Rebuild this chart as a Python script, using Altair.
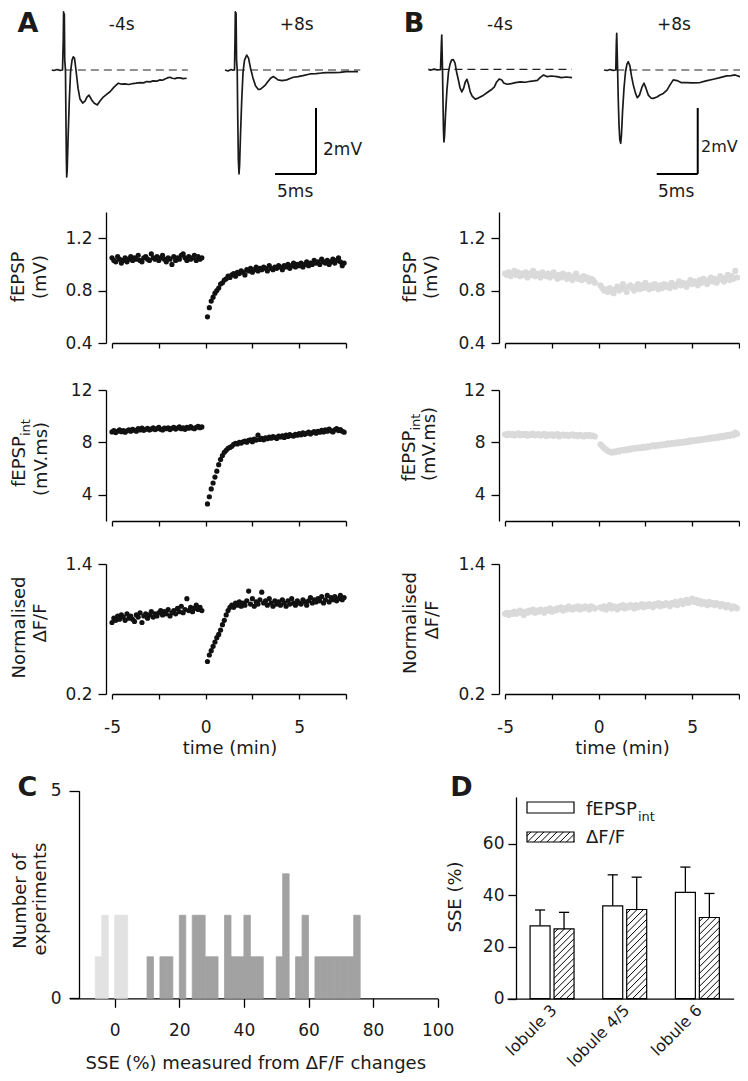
import altair as alt
import pandas as pd

# ---------------------------------------------------------------- data
# sampling times of the time-course plots (min)
T_PRE = [-5.0, -4.9, -4.8, -4.7, -4.6, -4.5, -4.4, -4.3, -4.2, -4.1,
         -4.0, -3.9, -3.8, -3.7, -3.6, -3.5, -3.4, -3.3, -3.2, -3.1,
         -3.0, -2.9, -2.8, -2.7, -2.6, -2.5, -2.4, -2.3, -2.2, -2.1,
         -2.0, -1.9, -1.8, -1.7, -1.6, -1.5, -1.4, -1.3, -1.2, -1.1,
         -1.0, -0.9, -0.8, -0.7, -0.6, -0.5, -0.4, -0.3, -0.2]
T_POST = [0.1, 0.2, 0.3, 0.4, 0.5, 0.6, 0.7, 0.8, 0.9, 1.0,
          1.1, 1.2, 1.3, 1.4, 1.5, 1.6, 1.7, 1.8, 1.9, 2.0,
          2.1, 2.2, 2.3, 2.4, 2.5, 2.6, 2.7, 2.8, 2.9, 3.0,
          3.1, 3.2, 3.3, 3.4, 3.5, 3.6, 3.7, 3.8, 3.9, 4.0,
          4.1, 4.2, 4.3, 4.4, 4.5, 4.6, 4.7, 4.8, 4.9, 5.0,
          5.1, 5.2, 5.3, 5.4, 5.5, 5.6, 5.7, 5.8, 5.9, 6.0,
          6.1, 6.2, 6.3, 6.4, 6.5, 6.6, 6.7, 6.8, 6.9, 7.0,
          7.1, 7.2, 7.3, 7.4]

# panel A
A_FEPSP_PRE = [1.05, 1.03, 1.02, 1.06, 1.04, 1.01, 1.03, 1.05, 1.02, 1.04,
               1.06, 1.03, 1.05, 1.04, 1.07, 1.03, 1.02, 1.05, 1.06, 1.04,
               1.03, 1.08, 1.05, 1.04, 1.06, 1.03, 1.05, 1.07, 1.04, 1.02,
               1.05, 1.04, 1.00, 1.06, 1.03, 1.05, 1.04, 1.07, 1.08, 1.05,
               1.03, 1.06, 1.04, 1.05, 1.07, 1.03, 1.06, 1.04, 1.05]
A_FEPSP_POST = [0.60, 0.67, 0.72, 0.75, 0.78, 0.80, 0.82, 0.85, 0.86, 0.88,
                0.89, 0.91, 0.90, 0.92, 0.93, 0.91, 0.94, 0.93, 0.95, 0.94,
                0.92, 0.96, 0.95, 0.97, 0.94, 0.96, 0.98, 0.95, 0.97, 0.96,
                0.98, 0.97, 0.95, 0.99, 0.97, 0.96, 0.98, 0.97, 0.99, 0.98,
                0.96, 0.99, 0.98, 1.00, 0.97, 0.99, 1.01, 0.98, 1.00, 0.99,
                1.01, 0.98, 1.00, 1.02, 0.99, 1.01, 1.00, 1.03, 1.01, 1.02,
                1.00, 1.04, 1.02, 1.01, 1.03, 1.00, 1.02, 1.04, 1.01, 1.03,
                1.05, 1.02, 0.99, 1.01]
A_INT_PRE = [8.80, 8.90, 8.75, 8.85, 8.95, 8.82, 8.90, 8.78, 8.88, 8.95,
             8.85, 9.00, 8.92, 8.85, 9.05, 8.95, 9.10, 8.92, 9.00, 9.08,
             8.95, 9.02, 9.12, 8.98, 9.05, 9.15, 9.00, 8.95, 9.10, 9.05,
             9.12, 8.98, 9.08, 9.15, 9.02, 9.10, 9.18, 9.05, 9.12, 9.00,
             9.15, 9.08, 9.20, 9.10, 9.05, 9.15, 9.22, 9.12, 9.18]
A_INT_POST = [3.30, 3.85, 4.45, 4.90, 5.35, 5.80, 6.30, 6.70, 7.00, 7.25,
              7.40, 7.55, 7.62, 7.70, 7.85, 7.92, 7.88, 8.00, 7.95, 8.05,
              8.10, 8.02, 8.15, 8.20, 8.05, 8.25, 8.18, 8.55, 8.22, 8.30,
              8.20, 8.35, 8.28, 8.40, 8.32, 8.45, 8.38, 8.30, 8.48, 8.42,
              8.50, 8.38, 8.55, 8.45, 8.60, 8.52, 8.48, 8.62, 8.55, 8.68,
              8.58, 8.72, 8.62, 8.70, 8.78, 8.65, 8.75, 8.82, 8.70, 8.85,
              8.78, 8.92, 8.80, 8.95, 8.85, 9.02, 8.88, 8.80, 8.95, 9.05,
              8.90, 8.98, 8.85, 8.78]
A_DFF_PRE = [0.86, 0.90, 0.88, 0.92, 0.89, 0.93, 0.91, 0.88, 0.94, 0.90,
             0.92, 0.89, 0.87, 0.93, 0.91, 0.95, 0.86, 0.92, 0.94, 0.90,
             0.93, 0.96, 0.91, 0.94, 0.92, 0.95, 0.97, 0.93, 0.96, 0.94,
             0.98, 0.92, 0.95, 0.97, 0.94, 0.99, 0.96, 1.01, 0.95, 0.98,
             1.08, 0.97, 1.00, 0.96, 0.99, 1.02, 0.98, 1.00, 0.97]
A_DFF_POST = [0.50, 0.56, 0.60, 0.64, 0.68, 0.72, 0.75, 0.79, 0.84, 0.88,
              0.93, 0.97, 1.00, 1.02, 1.00, 1.04, 1.02, 1.05, 1.01, 1.04,
              1.02, 1.06, 1.15, 1.03, 1.08, 1.01, 1.05, 1.03, 1.07, 1.14,
              1.04, 1.06, 1.02, 1.08, 1.04, 1.01, 1.06, 1.03, 1.05, 1.02,
              1.07, 1.04, 1.01, 1.06, 1.03, 1.08, 1.04, 1.02, 1.06, 1.04,
              1.03, 1.07, 1.05, 1.02, 1.06, 1.09, 1.04, 1.07, 1.05, 1.08,
              1.06, 1.10, 1.04, 1.07, 1.11, 1.05, 1.09, 1.07, 1.10, 1.06,
              1.08, 1.11, 1.07, 1.09]

# panel B
B_FEPSP_PRE = [0.93, 0.92, 0.94, 0.91, 0.93, 0.95, 0.92, 0.94, 0.91, 0.93,
               0.92, 0.94, 0.90, 0.93, 0.92, 0.95, 0.91, 0.93, 0.92, 0.90,
               0.94, 0.92, 0.91, 0.93, 0.90, 0.92, 0.94, 0.91, 0.89, 0.92,
               0.90, 0.93, 0.91, 0.89, 0.92, 0.90, 0.88, 0.91, 0.93, 0.89,
               0.90, 0.88, 0.91, 0.89, 0.90, 0.87, 0.89, 0.88, 0.86]
B_FEPSP_POST = [0.84, 0.82, 0.80, 0.81, 0.79, 0.82, 0.80, 0.78, 0.81, 0.83,
                0.80, 0.82, 0.85, 0.81, 0.79, 0.83, 0.84, 0.82, 0.80, 0.83,
                0.85, 0.81, 0.84, 0.82, 0.86, 0.83, 0.81, 0.84, 0.82, 0.85,
                0.83, 0.81, 0.84, 0.82, 0.85, 0.83, 0.84, 0.82, 0.86, 0.84,
                0.83, 0.85, 0.87, 0.84, 0.86, 0.85, 0.83, 0.86, 0.88, 0.85,
                0.87, 0.86, 0.84, 0.88, 0.86, 0.89, 0.87, 0.85, 0.88, 0.90,
                0.87, 0.89, 0.86, 0.88, 0.91, 0.89, 0.87, 0.90, 0.92, 0.88,
                0.91, 0.89, 0.95, 0.90]
B_INT_PRE = [8.62, 8.55, 8.68, 8.58, 8.65, 8.52, 8.60, 8.70, 8.55, 8.63,
             8.58, 8.66, 8.50, 8.62, 8.57, 8.68, 8.54, 8.60, 8.64, 8.52,
             8.58, 8.65, 8.48, 8.60, 8.55, 8.62, 8.50, 8.57, 8.63, 8.45,
             8.55, 8.60, 8.52, 8.58, 8.48, 8.56, 8.62, 8.50, 8.55, 8.47,
             8.58, 8.52, 8.45, 8.55, 8.50, 8.58, 8.48, 8.52, 8.45]
B_INT_POST = [7.85, 7.70, 7.55, 7.45, 7.35, 7.28, 7.22, 7.30, 7.25, 7.35,
              7.30, 7.42, 7.38, 7.45, 7.40, 7.50, 7.46, 7.55, 7.52, 7.58,
              7.55, 7.62, 7.58, 7.66, 7.60, 7.70, 7.65, 7.72, 7.78, 7.70,
              7.80, 7.75, 7.84, 7.78, 7.88, 7.82, 7.92, 7.86, 7.95, 7.90,
              7.98, 7.94, 8.02, 7.96, 8.05, 8.00, 8.10, 8.04, 8.15, 8.08,
              8.18, 8.12, 8.22, 8.16, 8.25, 8.20, 8.30, 8.24, 8.35, 8.28,
              8.38, 8.32, 8.42, 8.36, 8.48, 8.40, 8.52, 8.45, 8.58, 8.50,
              8.62, 8.55, 8.75, 8.65]
B_DFF_PRE = [0.94, 0.95, 0.93, 0.95, 0.94, 0.96, 0.94, 0.95, 0.97, 0.95,
             0.93, 0.96, 0.95, 0.97, 0.96, 0.98, 0.95, 0.97, 0.96, 0.98,
             0.97, 0.95, 0.98, 0.97, 0.99, 0.96, 0.98, 0.97, 0.99, 0.98,
             1.00, 0.97, 0.99, 0.98, 1.01, 0.99, 0.98, 1.00, 0.99, 1.01,
             0.98, 1.00, 0.99, 1.01, 1.00, 0.98, 1.01, 1.00, 0.99]
B_DFF_POST = [1.00, 0.99, 1.01, 0.98, 1.00, 1.02, 0.99, 1.01, 1.00, 0.98,
              1.01, 1.00, 1.02, 0.99, 1.01, 1.00, 1.02, 1.01, 0.99, 1.02,
              1.00, 1.01, 1.03, 1.00, 1.02, 1.01, 1.03, 1.02, 1.00, 1.03,
              1.02, 1.04, 1.01, 1.03, 1.02, 1.04, 1.03, 1.01, 1.04, 1.03,
              1.05, 1.02, 1.04, 1.06, 1.03, 1.05, 1.07, 1.04, 1.06, 1.08,
              1.05, 1.07, 1.04, 1.06, 1.03, 1.05, 1.04, 1.02, 1.05, 1.03,
              1.04, 1.02, 1.04, 1.03, 1.01, 1.03, 1.02, 1.00, 1.02, 1.01,
              0.99, 1.01, 1.00, 0.99]

# example field potentials (time in ms, voltage in mV)
TR_A1_T = [0, 0.28, 0.65, 1.01, 1.32, 1.41, 1.45, 1.50, 1.54, 1.59, 1.68, 1.74, 1.79, 1.83,
           1.89, 1.99, 2.15, 2.30, 2.48, 2.63, 2.78, 2.96, 3.21, 3.45, 3.78, 4.06, 4.30, 4.55,
           4.88, 5.16, 5.56, 5.89, 6.29, 6.74, 7.11, 7.60, 8.13, 8.50, 8.94, 9.40, 9.91, 10.30,
           10.77, 11.20, 11.59, 12.00, 12.36, 12.80, 13.21, 13.50, 13.82, 14.10, 14.43, 14.70,
           15.04, 15.30, 15.65, 16.00, 16.46]
TR_A1_V = [0, -0.015, 0.015, -0.01, 0, 0.91, 1.76, 0.76, 1.70, 0.30, 0, -1.52, -2.73, -3.24,
           -3.03, -2.12, -0.91, -0.06, 0.30, 0.40, 0.36, 0, -0.55, -0.88, -1.00, -0.94, -0.82, -0.76,
           -0.91, -1.00, -1.06, -0.94, -0.82, -0.73, -0.66, -0.52, -0.40, -0.43, -0.42, -0.44, -0.41, -0.40,
           -0.38, -0.39, -0.35, -0.36, -0.33, -0.34, -0.30, -0.31, -0.27, -0.24, -0.22, -0.25,
           -0.26, -0.24, -0.24, -0.26, -0.25]
TR_A2_T = [0, 0.37, 0.73, 0.98, 1.16, 1.22, 1.26, 1.30, 1.35, 1.41, 1.49, 1.56, 1.63, 1.71,
           1.78, 1.89, 2.04, 2.20, 2.38, 2.65, 2.87, 3.11, 3.41, 3.72, 4.06, 4.33, 4.63, 4.94,
           5.24, 5.61, 5.89, 6.16, 6.46, 6.95, 7.52, 7.93, 8.33, 8.90, 9.51, 10.37, 11.10, 11.83,
           12.44, 13.17, 14.02, 14.76, 15.49, 16.22]
TR_A2_V = [0, -0.03, 0.015, -0.006, 0, 0.91, 1.76, 0.76, 1.73, 0.30, 0, -1.52, -2.73, -3.15,
           -2.88, -1.97, -0.91, -0.06, 0.30, 0.45, 0.36, 0.06, -0.24, -0.48, -0.59, -0.58, -0.52, -0.45,
           -0.35, -0.24, -0.20, -0.24, -0.30, -0.32, -0.30, -0.26, -0.22, -0.20, -0.17, -0.12, -0.11, -0.09,
           -0.08, -0.08, -0.07, -0.05, -0.05, -0.05]
TR_B1_T = [0, 0.33, 0.70, 1.06, 1.49, 1.59, 1.64, 1.68, 1.73, 1.79, 1.85, 1.91, 1.98, 2.09,
           2.27, 2.46, 2.65, 2.83, 3.05, 3.26, 3.45, 3.67, 3.88, 4.09, 4.31, 4.50, 4.71, 4.90,
           5.11, 5.35, 5.72, 6.09, 6.74, 7.19, 7.76, 8.04, 8.34, 8.65, 8.96, 9.20, 9.59, 10.12,
           10.61, 11.22, 11.83, 12.44, 12.85, 13.30, 13.66, 14.06, 14.51, 15.00, 15.70, 16.22,
           16.83, 17.53]
TR_B1_V = [0, -0.02, 0.01, -0.015, -0.006, 0.74, 1.04, 0.58, 0.01, -0.93, -1.84, -2.20, -2.01, -1.40,
           -0.63, -0.08, 0.16, 0.28, 0.30, 0.19, -0.08, -0.32, -0.57, -0.68, -0.57, -0.39, -0.30, -0.45,
           -0.68, -0.81, -0.90, -0.87, -0.78, -0.70, -0.60, -0.54, -0.38, -0.29, -0.32, -0.41, -0.45, -0.43,
           -0.40, -0.38, -0.39, -0.36, -0.35, -0.33, -0.24, -0.17, -0.22, -0.20, -0.22, -0.25,
           -0.23, -0.25]
TR_B2_T = [0, 0.37, 0.73, 1.10, 1.44, 1.50, 1.55, 1.60, 1.66, 1.74, 1.83, 1.93, 2.04, 2.13,
           2.26, 2.44, 2.62, 2.80, 2.96, 3.17, 3.35, 3.57, 3.84, 4.06, 4.33, 4.63, 4.88, 5.12,
           5.40, 5.73, 6.01, 6.46, 6.83, 7.23, 7.68, 8.05, 8.45, 8.90, 9.39, 10.09, 10.73, 11.71,
           12.44, 13.33, 14.02, 14.96, 15.49, 15.98, 16.59, 17.40]
TR_B2_V = [0, -0.015, 0.015, -0.01, 0, 0.76, 1.11, 0.61, 0, -0.91, -1.67, -2.12, -2.22, -1.97,
           -1.27, -0.55, -0.06, 0.18, 0.25, 0.12, -0.18, -0.45, -0.70, -0.84, -0.76, -0.52, -0.40, -0.55,
           -0.76, -0.85, -0.86, -0.82, -0.76, -0.71, -0.61, -0.45, -0.30, -0.32, -0.38, -0.38, -0.39, -0.38,
           -0.33, -0.28, -0.24, -0.18, -0.17, -0.15, -0.20, -0.22]
BASE_A1 = [1.6, 16.6]
BASE_A2 = [1.46, 16.5]
BASE_B1 = [1.6, 17.5]
BASE_B2 = [1.5, 17.4]
SCALEBAR_MS = 5
SCALEBAR_MV = 2

# panel C histogram (2 % bins: left edge, count)
LIGHT_BINS = [-6, -4, 0, 2]
LIGHT_COUNTS = [1, 2, 2, 2]
DARK_BINS = [10, 14, 16, 20, 24, 26, 28, 30, 34, 36, 38, 40, 42, 44, 50, 52, 56, 58,
             62, 64, 66, 68, 70, 72, 74]
DARK_COUNTS = [1, 1, 1, 2, 2, 2, 1, 1, 2, 1, 1, 2, 1, 1, 1, 3, 1, 2,
               1, 1, 1, 1, 1, 1, 2]
BIN_W = 2

# panel D
LOBULES = ["lobule 3", "lobule 4/5", "lobule 6"]
SSE_FEPSP = [28.2, 35.9, 41.1]
SSE_FEPSP_ERR = [6.1, 12.0, 9.8]
SSE_DFF = [27.0, 34.5, 31.4]
SSE_DFF_ERR = [6.4, 12.5, 9.3]

# ---------------------------------------------------------------- layout / style
W, H, M = 732, 1065, 8
FONT = "DejaVu Sans"
INK = "#1a1a1a"
PX_MS = 8.2
PX_MV = 33.0


def P(v):
    return v - M


ONE = alt.Data(values=[{"a": 1}])


def txt(s, x, y, size=17, angle=0, align="center", baseline="middle", weight="normal"):
    kw = dict(text=s, font=FONT, fontSize=size, align=align, baseline=baseline,
              fontWeight=weight, color=INK)
    if angle:
        kw["angle"] = angle
    return alt.Chart(ONE).mark_text(**kw).encode(x=alt.value(P(x)), y=alt.value(P(y)))


def trace(tt, vv, base, x_start, y_base, bar_t=None):
    xs = alt.Scale(domain=[0, 20], range=[P(x_start), P(x_start) + 20 * PX_MS], nice=False, zero=False)
    ys = alt.Scale(domain=[-4, 2], range=[P(y_base) + 4 * PX_MV, P(y_base) - 2 * PX_MV],
                   nice=False, zero=False)
    X = lambda f: alt.X(f, type="quantitative", scale=xs, axis=None)
    Y = lambda f: alt.Y(f, type="quantitative", scale=ys, axis=None)
    dash = alt.Chart(pd.DataFrame({"t": [base[0]], "t2": [base[1]], "v": [0.0]})).mark_rule(
        color="#222222", strokeWidth=1.1, strokeDash=[8, 5]).encode(x=X("t"), x2="t2:Q", y=Y("v"))
    line = alt.Chart(pd.DataFrame({"t": tt, "v": vv})).mark_line(
        color=INK, strokeWidth=1.7, strokeJoin="round").encode(x=X("t"), y=Y("v"))
    layers = [dash, line]
    if bar_t is not None:
        vb = -3.15
        sb = pd.DataFrame({"t": [bar_t - SCALEBAR_MS, bar_t], "t2": [bar_t, bar_t],
                           "v": [vb, vb], "v2": [vb, vb + SCALEBAR_MV]})
        layers.append(alt.Chart(sb).mark_rule(color="black", strokeWidth=2).encode(
            x=X("t"), x2="t2:Q", y=Y("v"), y2="v2:Q"))
    return alt.layer(*layers)


XT = [-5, -2.5, 0, 2.5, 5, 7.5]


def scatter(pre, post, ydom, ybot, ytop, yvals, yaxis_x, x0, x1, color, size, xlabels):
    df = pd.DataFrame({"t": T_PRE + T_POST, "v": pre + post})
    xax = alt.Axis(orient="bottom", offset=P(ybot) - H, values=XT, labels=xlabels,
                   labelExpr="datum.value % 5 === 0 ? '' + datum.value : ''",
                   tickSize=5, labelPadding=20, title=None, grid=False)
    yax = alt.Axis(orient="left", offset=-P(yaxis_x), values=yvals, tickSize=8,
                   labelPadding=6, title=None, grid=False)
    return alt.Chart(df).mark_circle(size=size, color=color, opacity=1).encode(
        x=alt.X("t:Q", scale=alt.Scale(domain=[-5, 7.5], range=[P(x0), P(x1)], nice=False, zero=False),
                axis=xax),
        y=alt.Y("v:Q", scale=alt.Scale(domain=ydom, range=[P(ybot), P(ytop)], nice=False, zero=False),
                axis=yax))


layers = []

# --- traces
layers.append(trace(TR_A1_T, TR_A1_V, BASE_A1, 51.7, 70))
layers.append(trace(TR_A2_T, TR_A2_V, BASE_A2, 225, 70, bar_t=11.1))
layers.append(trace(TR_B1_T, TR_B1_V, BASE_B1, 428.3, 69.4))
layers.append(trace(TR_B2_T, TR_B2_V, BASE_B2, 604, 70, bar_t=11.43))

# --- time courses
A_COL, A_SIZE = "#111111", 27
B_COL, B_SIZE = "#dadada", 38
for (x0, x1, yx, col, sz, data) in [
        (112, 346, 106, A_COL, A_SIZE, [(A_FEPSP_PRE, A_FEPSP_POST), (A_INT_PRE, A_INT_POST), (A_DFF_PRE, A_DFF_POST)]),
        (505, 739, 499, B_COL, B_SIZE, [(B_FEPSP_PRE, B_FEPSP_POST), (B_INT_PRE, B_INT_POST), (B_DFF_PRE, B_DFF_POST)])]:
    layers.append(scatter(data[0][0], data[0][1], [0.4, 1.4], 343, 212, [0.4, 0.8, 1.2], yx, x0, x1, col, sz, False))
    layers.append(scatter(data[1][0], data[1][1], [2, 12], 521, 390, [4, 8, 12], yx, x0, x1, col, sz, False))
    layers.append(scatter(data[2][0], data[2][1], [0.2, 1.4], 694, 564, [0.2, 1.4], yx, x0, x1, col, sz, True))

# --- panel C histogram
C_XS = alt.Scale(domain=[-14, 100], range=[P(69.5), P(437.7)], nice=False, zero=False)
C_YS = alt.Scale(domain=[0, 5], range=[P(998.3), P(790.7)], nice=False, zero=False)
C_XAX = alt.Axis(orient="bottom", offset=P(998.3) - H, values=[0, 20, 40, 60, 80, 100],
                 tickSize=9, labelPadding=15, title=None, grid=False)
C_YAX = alt.Axis(orient="left", offset=-P(79), values=[0, 5], tickSize=10, labelPadding=8,
                 title=None, grid=False)


def hist(bins, counts, color):
    df = pd.DataFrame({"b": bins, "n": counts})
    df["b2"] = df["b"] + BIN_W
    df["z"] = 0
    return alt.Chart(df).mark_rect(color=color, stroke=color, strokeWidth=0.8).encode(
        x=alt.X("b:Q", scale=C_XS, axis=C_XAX), x2="b2:Q",
        y=alt.Y("n:Q", scale=C_YS, axis=C_YAX), y2="z:Q")


layers.append(alt.layer(hist(LIGHT_BINS, LIGHT_COUNTS, "#e2e2e2"),
                        hist(DARK_BINS, DARK_COUNTS, "#a2a2a2")))

# --- panel D bars
D_XDOM, D_XPX = [-0.12, 3.0], [507.0, 733.7]
D_YDOM, D_YPX = [0.0, 78.0], [998.7, 797.0]
BW, GAP = 0.275, 0.0275
CAP = 0.07


def lin(d, dom, rng):
    return rng[0] + (d - dom[0]) / (dom[1] - dom[0]) * (rng[1] - rng[0])


def inv(p, dom, rng):
    return dom[0] + (p - rng[0]) / (rng[1] - rng[0]) * (dom[1] - dom[0])


def hatch(x0, x1, ytop, ybot, step=6.5):
    segs = []
    k = x0 + ytop + step * 0.6
    while k < x1 + ybot:
        xa, xb = max(x0, k - ybot), min(x1, k - ytop)
        if xb > xa:
            segs.append((xa, k - xa, xb, k - xb))
        k += step
    return segs


D_XS = alt.Scale(domain=D_XDOM, range=[P(D_XPX[0]), P(D_XPX[1])], nice=False, zero=False)
D_YS = alt.Scale(domain=D_YDOM, range=[P(D_YPX[0]), P(D_YPX[1])], nice=False, zero=False)
D_XAX = alt.Axis(orient="bottom", offset=P(D_YPX[0]) - H, ticks=False, labels=False,
                 title=None, grid=False)
D_YAX = alt.Axis(orient="left", offset=-P(516), values=[0, 20, 40, 60], tickSize=8,
                 labelPadding=4, title=None, grid=False)
dX = lambda f: alt.X(f, type="quantitative", scale=D_XS, axis=D_XAX)
dY = lambda f: alt.Y(f, type="quantitative", scale=D_YS, axis=D_YAX)

rows, hrows = [], []
for i, name in enumerate(LOBULES):
    c = i + 0.5
    for kind, val, err, lo in [("f", SSE_FEPSP[i], SSE_FEPSP_ERR[i], c - GAP - BW),
                               ("d", SSE_DFF[i], SSE_DFF_ERR[i], c + GAP)]:
        mid = lo + BW / 2
        rows.append(dict(kind=kind, name=name, c=c, lo=lo, hi=lo + BW, mid=mid, cl=mid - CAP,
                         cr=mid + CAP, val=val, top=val + err, z=0))
        if kind == "d":
            for xa, ya, xb, yb in hatch(lin(lo, D_XDOM, D_XPX), lin(lo + BW, D_XDOM, D_XPX),
                                        lin(val, D_YDOM, D_YPX), lin(0, D_YDOM, D_YPX)):
                hrows.append(dict(x=inv(xa, D_XDOM, D_XPX), y=inv(ya, D_YDOM, D_YPX),
                                  x2=inv(xb, D_XDOM, D_XPX), y2=inv(yb, D_YDOM, D_YPX)))
bars_df = pd.DataFrame(rows)
hatch_df = pd.DataFrame(hrows)

d_err = alt.Chart(bars_df).mark_rule(color="black", strokeWidth=1.3).encode(
    x=dX("mid"), y=dY("val"), y2="top:Q")
d_cap = alt.Chart(bars_df).mark_rule(color="black", strokeWidth=1.3).encode(
    x=dX("cl"), x2="cr:Q", y=dY("top"))
d_bar = alt.Chart(bars_df).mark_rect(fill="white", stroke="black", strokeWidth=1.2).encode(
    x=dX("lo"), x2="hi:Q", y=dY("val"), y2="z:Q")
d_hat = alt.Chart(hatch_df).mark_rule(color="black", strokeWidth=1).encode(
    x=dX("x"), x2="x2:Q", y=dY("y"), y2="y2:Q")
d_lab = alt.Chart(pd.DataFrame({"c": [i + 0.5 for i in range(len(LOBULES))], "name": LOBULES})).mark_text(
    angle=315, align="right", baseline="middle", font=FONT, fontSize=16, color=INK, dx=3).encode(
    x=dX("c"), y=alt.value(P(1010)), text="name:N")
layers.append(alt.layer(d_err, d_cap, d_bar, d_hat, d_lab))

# legend of D
LEG = [(527, 574, 802, 813), (527, 574, 832, 842)]
for (x0, x1, y0, y1) in LEG:
    layers.append(alt.Chart(ONE).mark_rect(fill="white", stroke="black", strokeWidth=1.2).encode(
        x=alt.value(P(x0)), x2=alt.value(P(x1)), y=alt.value(P(y0)), y2=alt.value(P(y1))))
lh = pd.DataFrame([dict(x=P(a), y=P(b), x2=P(c), y2=P(d)) for a, b, c, d in hatch(*LEG[1])])
layers.append(alt.Chart(lh).mark_rule(color="black", strokeWidth=1).encode(
    x=alt.X("x:Q", scale=None, axis=None), x2="x2:Q", y=alt.Y("y:Q", scale=None, axis=None), y2="y2:Q"))

# --- texts
T = [
    txt("A", 28, 24, 27, weight="bold"), txt("B", 414, 24, 27, weight="bold"),
    txt("C", 27.5, 788, 27, weight="bold"), txt("D", 461.5, 788, 27, weight="bold"),
    txt("-4s", 121.7, 25), txt("+8s", 296.7, 25), txt("-4s", 500, 25), txt("+8s", 674, 25),
    txt("2mV", 323, 150, align="left"), txt("5ms", 277, 192, align="left"),
    txt("2mV", 701, 147, 16, align="left"), txt("5ms", 658, 192, align="left"),
    # panel A axis titles
    txt("fEPSP", 19, 277, 18, angle=270), txt("(mV)", 41, 277, 18, angle=270),
    txt("fEPSP", 19.5, 487, 18, angle=270, align="left"), txt("int", 25.5, 436, 13, angle=270, align="left"),
    txt("(mV.ms)", 41.5, 459, 18, angle=270),
    txt("Normalised", 19.5, 627.5, 18, angle=270), txt("ΔF/F", 41, 623, 18, angle=270),
    txt("time (min)", 230, 749, 18),
    # panel B axis titles
    txt("fEPSP", 411, 277, 18, angle=270), txt("(mV)", 432, 277, 18, angle=270),
    txt("fEPSP", 409.5, 481.5, 18, angle=270, align="left"), txt("int", 415.5, 430.6, 13, angle=270, align="left"),
    txt("(mV.ms)", 430, 444, 18, angle=270),
    txt("Normalised", 410.5, 623, 18, angle=270), txt("ΔF/F", 433, 620, 18, angle=270),
    txt("time (min)", 622.5, 749, 18),
    # panel C
    txt("Number of", 20.5, 901, 18, angle=270), txt("experiments", 41, 899, 18, angle=270),
    txt("SSE (%) measured from ΔF/F changes", 255.8, 1064, 18),
    # panel D
    txt("SSE (%)", 456, 897, 18, angle=270),
    txt("fEPSP", 586, 815, 18, align="left", baseline="alphabetic"),
    txt("int", 638, 821, 13, align="left", baseline="alphabetic"),
    txt("ΔF/F", 586, 843, 18, align="left", baseline="alphabetic"),
]
layers.extend(T)

chart = alt.layer(*layers).resolve_scale(x="independent", y="independent").properties(
    width=W, height=H, padding=0, autosize=alt.AutoSizeParams(type="none")
).configure_view(stroke=None).configure_axis(
    labelFont=FONT, labelFontSize=17, labelColor=INK, domainColor="black", tickColor="black",
    domainWidth=1.3, tickWidth=1.3, grid=False, labelFlush=False, labelOverlap=False, zindex=1
)

chart.save("out.html", embed_options={"renderer": "svg", "actions": False})
